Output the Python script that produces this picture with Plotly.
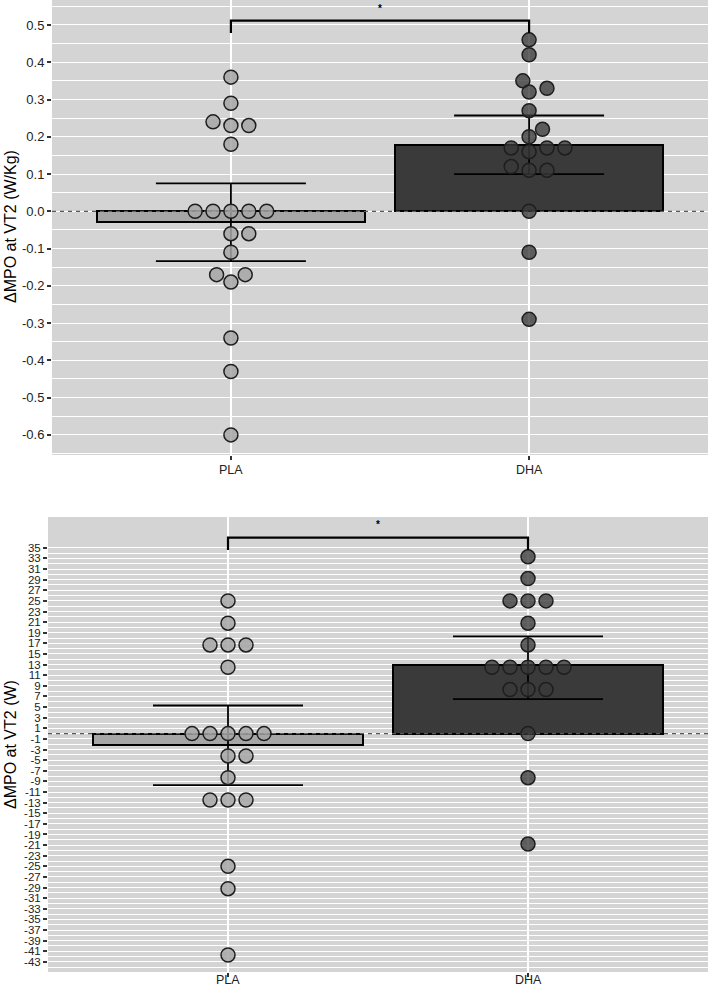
import plotly.graph_objects as go

# ---------------- data ----------------
groups = ["PLA", "DHA"]

# Panel A: ΔMPO at VT2 (W/kg)
pla_wkg = [0.36, 0.29, 0.24, 0.23, 0.23, 0.18, 0, 0, 0, 0, 0, -0.06, -0.06, -0.11,
           -0.17, -0.17, -0.19, -0.34, -0.43, -0.60]
dha_wkg = [0.46, 0.42, 0.35, 0.32, 0.33, 0.27, 0.22, 0.20, 0.17, 0.17, 0.17, 0.16,
           0.12, 0.11, 0.11, 0, -0.11, -0.29]
mean_wkg = [-0.03, 0.177]
ci_hi_wkg = [0.075, 0.257]
ci_lo_wkg = [-0.134, 0.100]
ticks_wkg = [-0.6, -0.5, -0.4, -0.3, -0.2, -0.1, 0.0, 0.1, 0.2, 0.3, 0.4, 0.5]

# Panel B: ΔMPO at VT2 (W)
pla_w = [25, 20.8, 16.7, 16.7, 16.7, 12.5, 0, 0, 0, 0, 0, -4.2, -4.2, -8.3,
         -12.5, -12.5, -12.5, -25, -29.2, -41.7]
dha_w = [33.3, 29.2, 25, 25, 25, 20.8, 16.7, 12.5, 12.5, 12.5, 12.5, 12.5,
         8.3, 8.3, 8.3, 0, -8.3, -20.8]
mean_w = [-2.1, 13.0]
ci_hi_w = [5.3, 18.3]
ci_lo_w = [-9.7, 6.5]
ticks_w = [35, 33, 31, 29, 27, 25, 23, 21, 19, 17, 15, 13, 11, 9, 7, 5, 3, 1,
           -1, -3, -5, -7, -9, -11, -13, -15, -17, -19, -21, -23, -25, -27, -29,
           -31, -33, -35, -37, -39, -41, -43]
minor_w = [34, 32, 30, 28, 26, 24, 22, 20, 18, 16, 14, 12, 10, 8, 6, 4, 2, 0,
           -2, -4, -6, -8, -10, -12, -14, -16, -18, -20, -22, -24, -26, -28, -30,
           -32, -34, -36, -38, -40, -42, -44]

# ---------------- layout helpers (dot stacking offsets, in dot widths) ----------------
off_pla_a = [0, 0, -1, 0, 1, 0, -2, -1, 0, 1, 2, 0, 1, 0, -0.8, 0.8, 0, 0, 0, 0]
off_dha_a = [0, 0, -0.35, 0, 1, 0, 0.75, 0, -1, 1, 2, 0, -1, 0, 1, 0, 0, 0]
off_pla_b = [0, 0, -1, 0, 1, 0, -2, -1, 0, 1, 2, 0, 1, 0, -1, 0, 1, 0, 0, 0]
off_dha_b = [0, 0, -1, 0, 1, 0, 0, -2, -1, 0, 1, 2, -1, 0, 1, 0, 0, 0]
DOT_STEP = 0.06

W, H = 708, 990
PANEL_BG = "#d4d4d4"
FILL_PLA = "#a6a6a6"
FILL_DHA = "#3a3a3a"
DOT_PLA = "rgba(166,166,166,0.85)"
DOT_DHA = "rgba(58,58,58,0.78)"
FONT = "Liberation Sans, Arial, Helvetica, sans-serif"

fig = go.Figure()


def add_panel(ax, vals_p, vals_d, offs_p, offs_d, means, hi, lo, brk_lo, brk_hi, star_y,
              star_anchor, label_px):
    xa = "x" if ax == 1 else "x2"
    ya = "y" if ax == 1 else "y2"
    # zero dashed line
    fig.add_trace(go.Scatter(x=[-0.6, 1.6], y=[0, 0], mode="lines",
                             line=dict(color="#5a5a5a", width=1.2, dash="4px,4px"),
                             xaxis=xa, yaxis=ya, hoverinfo="skip", showlegend=False))
    # bars + error bars
    fig.add_trace(go.Bar(x=[0, 1], y=means, width=0.9,
                         marker=dict(color=[FILL_PLA, FILL_DHA],
                                     line=dict(color="black", width=2)),
                         error_y=dict(type="data", symmetric=False,
                                      array=[h - m for h, m in zip(hi, means)],
                                      arrayminus=[m - l for l, m in zip(lo, means)],
                                      color="black", thickness=1.8, width=75),
                         xaxis=xa, yaxis=ya, showlegend=False))
    # dots
    for i, (vals, offs, col) in enumerate([(vals_p, offs_p, DOT_PLA), (vals_d, offs_d, DOT_DHA)]):
        fig.add_trace(go.Scatter(x=[i + o * DOT_STEP for o in offs], y=vals, mode="markers",
                                 marker=dict(size=14, color=col,
                                             line=dict(color="#1e1e1e", width=1.5)),
                                 xaxis=xa, yaxis=ya, showlegend=False))
    # significance bracket
    fig.add_trace(go.Scatter(x=[0, 0, 1, 1], y=[brk_lo, brk_hi, brk_hi, brk_lo], mode="lines",
                             line=dict(color="black", width=2.2),
                             xaxis=xa, yaxis=ya, hoverinfo="skip", showlegend=False))
    fig.add_annotation(x=0.5, y=star_y, xref=xa, yref=ya, text="<b>*</b>", showarrow=False,
                       xanchor="center", yanchor=star_anchor,
                       font=dict(size=10, color="black", family=FONT))
    # category labels
    for i, g in enumerate(groups):
        fig.add_annotation(x=i, y=1 - label_px / H, xref=xa, yref="paper", text=g,
                           showarrow=False, xanchor="center", yanchor="top", borderpad=0,
                           font=dict(size=12.5, color="#222222", family=FONT))


add_panel(1, pla_wkg, dha_wkg, off_pla_a, off_dha_a, mean_wkg, ci_hi_wkg, ci_lo_wkg,
          0.4785, 0.5115, 0.5655, "top", 462)
add_panel(2, pla_w, dha_w, off_pla_b, off_dha_b, mean_w, ci_hi_w, ci_lo_w,
          34.6, 36.9, 39.3, "middle", 972)

common_x = dict(range=[-0.6, 1.6], tickvals=[0, 1], ticktext=groups, showgrid=True,
                gridcolor="white", gridwidth=2, zeroline=False, ticks="outside",
                ticklen=4, tickwidth=1.5, tickcolor="#333333", showticklabels=False,
                showline=False, automargin=False, fixedrange=True)

fig.update_layout(
    width=W, height=H,
    margin=dict(l=0, r=0, t=0, b=0),
    paper_bgcolor="white", plot_bgcolor=PANEL_BG,
    bargap=0, barmode="overlay",
    font=dict(family=FONT),
    xaxis=dict(domain=[52 / W, 1], anchor="y", **common_x),
    xaxis2=dict(domain=[48 / W, 1], anchor="y2", **common_x),
    yaxis=dict(domain=[1 - 455 / H, 1], anchor="x", range=[-0.654, 0.567],
               tickmode="array", tickvals=ticks_wkg,
               ticktext=[f"{v:.1f}" for v in ticks_wkg],
               showgrid=True, gridcolor="white", gridwidth=1.4, zeroline=False,
               minor=dict(dtick=0.05, tick0=0, showgrid=True, gridcolor="white", gridwidth=0.8),
               ticks="outside", ticklen=4, tickwidth=1.5, tickcolor="#333333",
               tickfont=dict(size=13, color="#222222", family=FONT), automargin=False),
    yaxis2=dict(domain=[1 - 972 / H, 1 - 517 / H], anchor="x2", range=[-44.9, 40.8],
                tickmode="array", tickvals=ticks_w, ticktext=[str(v) for v in ticks_w],
                showgrid=True, gridcolor="white", gridwidth=1.4, zeroline=False,
                minor=dict(tickmode="array", tickvals=minor_w, showgrid=True,
                           gridcolor="white", gridwidth=0.8),
                ticks="outside", ticklen=4, tickwidth=1.5, tickcolor="#333333",
                tickfont=dict(size=11.5, color="#222222", family=FONT), automargin=False),
)

# y-axis titles
fig.add_annotation(x=10 / W, y=1 - 227 / H, xref="paper", yref="paper", text="ΔMPO at VT2 (W/Kg)",
                   textangle=-90, showarrow=False, xanchor="center", yanchor="middle",
                   font=dict(size=16, color="black", family=FONT))
fig.add_annotation(x=10 / W, y=1 - 745 / H, xref="paper", yref="paper", text="ΔMPO at VT2 (W)",
                   textangle=-90, showarrow=False, xanchor="center", yanchor="middle",
                   font=dict(size=16, color="black", family=FONT))

fig.write_html("out.html", config={"displayModeBar": False},
               post_script="document.body.style.margin='0';document.body.style.overflow='hidden';")
